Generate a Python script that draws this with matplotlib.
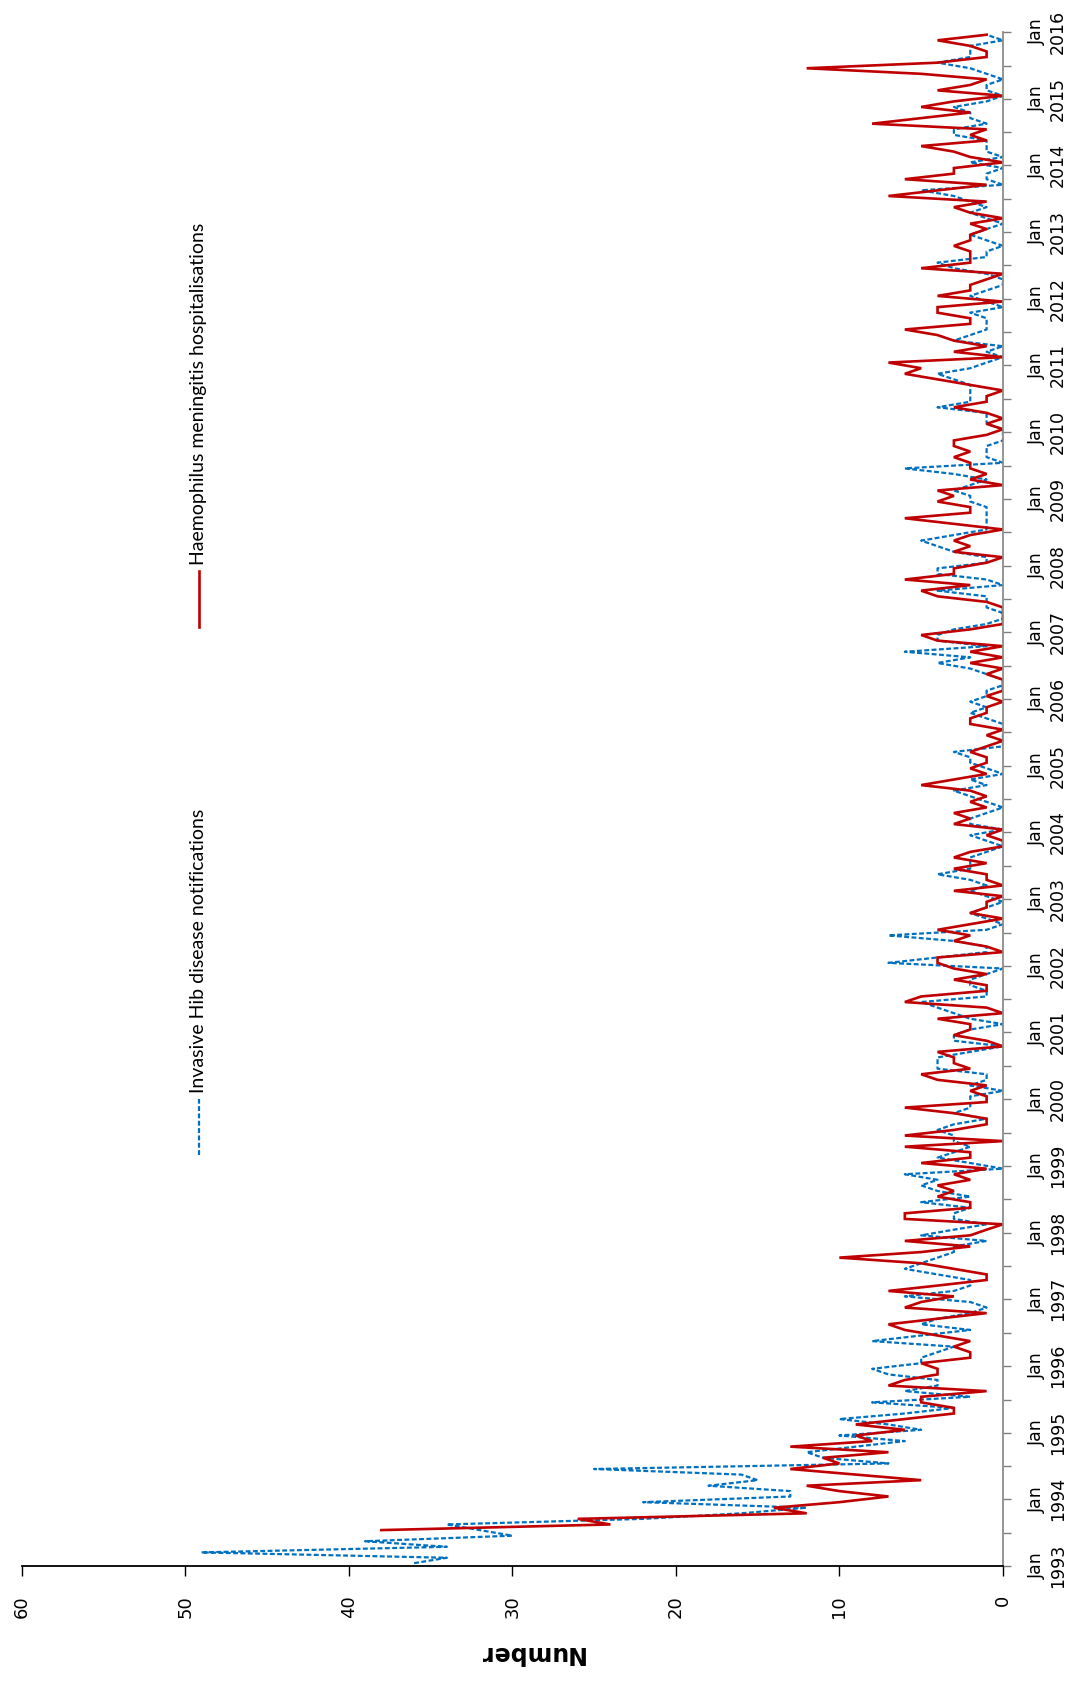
import numpy as np
import pandas as pd
import matplotlib
matplotlib.use("Agg")
import matplotlib.pyplot as plt

# ---------------- data (monthly, Jan 1993 - Dec 2015) ----------------
hib_notifications = [
    36, 34, 49, 34, 39, 30, 32, 34, 22, 16, 12, 22,   # 1993
    13, 13, 18, 15, 16, 25, 7, 11, 12, 9, 6, 10,      # 1994
    5, 7, 10, 6, 3, 8, 2, 6, 4, 4, 7, 8,              # 1995
    5, 5, 4, 3, 8, 5, 2, 5, 4, 2, 1, 2,               # 1996
    6, 3, 2, 2, 4, 6, 5, 4, 3, 3, 1, 5,               # 1997
    3, 1, 3, 3, 2, 5, 2, 4, 5, 4, 6, 0,               # 1998
    2, 4, 3, 2, 3, 3, 4, 3, 1, 3, 2, 2,               # 1999
    2, 0, 2, 1, 1, 4, 4, 4, 2, 0, 3, 3,               # 2000
    2, 0, 2, 3, 4, 5, 1, 1, 2, 2, 1, 0,               # 2001
    7, 4, 1, 1, 3, 7, 1, 0, 1, 2, 1, 0,               # 2002
    1, 2, 1, 2, 4, 2, 2, 2, 1, 0, 1, 2,               # 2003
    0, 2, 2, 1, 0, 1, 2, 3, 1, 2, 0, 1,               # 2004
    2, 2, 3, 0, 0, 0, 0, 0, 1, 2, 1, 2,               # 2005
    1, 1, 0, 0, 1, 2, 4, 2, 6, 1, 4, 4,               # 2006
    3, 1, 0, 0, 1, 1, 1, 4, 0, 1, 4, 4,               # 2007
    1, 1, 3, 4, 5, 3, 1, 1, 1, 1, 1, 2,               # 2008
    2, 3, 2, 1, 3, 6, 0, 1, 1, 1, 0, 0,               # 2009
    0, 1, 1, 1, 4, 2, 2, 2, 2, 3, 4, 2,               # 2010
    1, 0, 1, 0, 3, 2, 1, 1, 1, 2, 0, 1,               # 2011
    2, 1, 0, 0, 1, 3, 4, 1, 1, 0, 1, 2,               # 2012
    1, 0, 1, 2, 1, 2, 3, 5, 0, 1, 1, 0,               # 2013
    2, 0, 1, 1, 1, 3, 3, 1, 2, 2, 3, 1,               # 2014
    0, 1, 1, 0, 1, 2, 4, 2, 2, 2, 0, 1,               # 2015
]
meningitis_hosp = [
    None, None, None, None, None, None, 38, 24, 26, 12, 14, 10,  # 1993
    7, 10, 12, 5, 9, 13, 10, 11, 7, 13, 8, 9,         # 1994
    6, 9, 6, 3, 3, 5, 5, 1, 7, 6, 4, 4,               # 1995
    5, 2, 2, 3, 2, 4, 6, 7, 4, 1, 6, 5,               # 1996
    3, 7, 4, 1, 1, 3, 5, 10, 5, 2, 6, 2,              # 1997
    1, 0, 6, 6, 2, 2, 4, 3, 4, 2, 3, 1,               # 1998
    5, 2, 2, 6, 0, 6, 3, 1, 1, 3, 6, 1,               # 1999
    1, 2, 1, 4, 5, 2, 3, 3, 4, 0, 1, 3,               # 2000
    2, 2, 4, 0, 1, 6, 5, 1, 1, 3, 1, 3,               # 2001
    4, 4, 0, 1, 3, 2, 4, 2, 0, 2, 1, 1,               # 2002
    0, 3, 0, 1, 1, 3, 1, 3, 2, 0, 0, 1,               # 2003
    0, 3, 2, 3, 1, 2, 1, 2, 5, 3, 1, 2,               # 2004
    1, 1, 2, 1, 0, 1, 0, 2, 2, 1, 1, 0,               # 2005
    1, 0, 0, 0, 1, 0, 2, 0, 2, 0, 4, 5,               # 2006
    2, 0, 0, 0, 0, 1, 4, 5, 2, 6, 3, 3,               # 2007
    1, 0, 3, 2, 3, 2, 0, 3, 6, 2, 2, 4,               # 2008
    3, 4, 0, 2, 1, 2, 2, 3, 2, 3, 3, 1,               # 2009
    0, 1, 0, 1, 3, 1, 1, 0, 2, 4, 6, 5,               # 2010
    7, 0, 3, 1, 3, 4, 6, 2, 2, 4, 4, 0,               # 2011
    4, 2, 2, 1, 0, 5, 2, 2, 2, 3, 2, 2,               # 2012
    1, 2, 0, 2, 3, 1, 7, 4, 1, 6, 3, 3,               # 2013
    0, 2, 3, 5, 1, 2, 1, 8, 5, 2, 5, 3,               # 2014
    0, 4, 2, 1, 5, 12, 4, 1, 1, 2, 4, 1,              # 2015
]
years = list(range(1993, 2017))
number_ticks = [0, 10, 20, 30, 40, 50, 60]
series_labels = ["Invasive Hib disease notifications",
                 "Haemophilus meningitis hospitalisations"]

BLUE = "#0070C0"
RED = "#C00000"

# month mid-points
starts = pd.date_range("1993-01-01", periods=len(hib_notifications) + 1, freq="MS")
mids = starts[:-1] + (starts[1:] - starts[:-1]) / 2

blue = np.array(hib_notifications, dtype=float)
red = np.array([np.nan if v is None else v for v in meningitis_hosp], dtype=float)

fig = plt.figure(figsize=(10.68, 16.97), dpi=100)
ax = fig.add_axes([0.0202, 0.0772, 0.9189, 0.9040])

ax.plot(blue, mids, color=BLUE, lw=1.6, ls=(0, (2.2, 1.1)))
ax.plot(red, mids, color=RED, lw=1.9, solid_joinstyle="miter")

ax.set_xlim(60, 0)
ax.set_ylim(pd.Timestamp("1993-01-01"), pd.Timestamp("2016-01-01"))

# Number axis (bottom)
ax.set_xticks(number_ticks)
ax.set_xticklabels([str(v) for v in number_ticks], rotation=90, fontsize=13,
                   va="top", ha="center")
ax.tick_params(axis="x", direction="out", length=7, width=1, color="black", pad=14)

# Time axis (right)
year_ticks = [pd.Timestamp(f"{y}-01-01") for y in years]
ax.yaxis.tick_right()
ax.set_yticks(year_ticks)
ax.set_yticklabels([f"Jan\n{y}" for y in years], rotation=90, fontsize=12.5,
                   va="center", ha="left", multialignment="center")
ax.set_yticks([pd.Timestamp(f"{y}-07-01") for y in years[:-1]], minor=True)
ax.tick_params(axis="y", which="both", direction="out", length=6, width=1,
               color="#7f7f7f", pad=12)

for s in ["left", "top"]:
    ax.spines[s].set_visible(False)
ax.spines["right"].set_color("#8c8c8c")
ax.spines["right"].set_linewidth(1.3)
ax.spines["bottom"].set_color("black")
ax.spines["bottom"].set_linewidth(1.3)

# legend (rotated)
LX = 0.1805
ax.plot([LX, LX], [0.268, 0.3044], transform=ax.transAxes, color=BLUE,
        lw=1.6, ls=(0, (2.2, 1.1)), clip_on=False)
ax.text(LX, 0.3083, series_labels[0], transform=ax.transAxes, rotation=90,
        ha="center", va="bottom", fontsize=14, family="Lato")
ax.plot([LX, LX], [0.612, 0.6486], transform=ax.transAxes, color=RED,
        lw=1.9, clip_on=False)
ax.text(LX, 0.6525, series_labels[1], transform=ax.transAxes, rotation=90,
        ha="center", va="bottom", fontsize=14, family="Lato")

fig.text(531 / 1068, 44 / 1697, "Number", rotation=180, ha="center", va="center",
         fontsize=17, fontweight="bold")

fig.savefig("out.png", dpi=100)
